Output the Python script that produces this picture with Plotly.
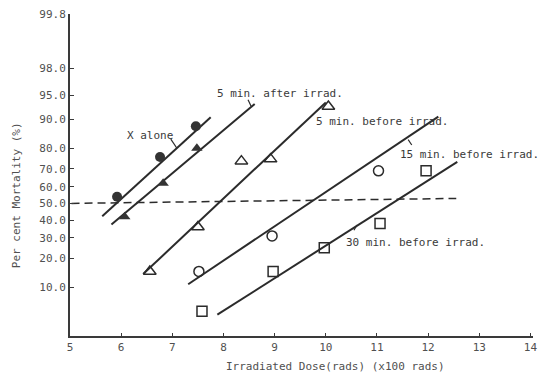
from statistics import NormalDist
import plotly.graph_objects as go

# Dose (x100 rads) and per cent mortality for each treatment group
x_alone_dose = [5.92, 6.76, 7.46]
x_alone_mort = [54, 76, 88]

after5_dose = [6.07, 6.82, 7.48]
after5_mort = [42, 62, 80]

before5_dose = [6.56, 7.50, 8.35, 8.92, 10.05]
before5_mort = [15, 36, 74, 75, 93]

before15_dose = [7.52, 8.95, 11.03]
before15_mort = [15, 31, 69]

before30_dose = [7.58, 8.97, 9.97, 11.06, 11.96]
before30_mort = [5, 15, 25, 38, 69]

# Fitted probit lines: end points (dose, % mortality)
fit_x_alone = ([5.63, 7.75], [42.2, 90.5])
fit_after5 = ([5.81, 8.61], [37.4, 93.5])
fit_before5 = ([6.43, 10.0], [14.1, 93.8])
fit_before15 = ([7.31, 12.2], [10.9, 90.7])
fit_before30 = ([7.88, 12.57], [4.5, 73.6])

# LD50 reference line
ld50_dose = [5.03, 12.55]
ld50_mort = [50, 53]

y_ticks = [10, 20, 30, 40, 50, 60, 70, 80, 90, 95, 98, 99.8]
x_ticks = [5, 6, 7, 8, 9, 10, 11, 12, 13, 14]

nd = NormalDist()


def probit(values):
    return [nd.inv_cdf(v / 100.0) for v in values]


FONT = "DejaVu Sans Mono"
INK = "#2b2b2b"
TXT = "#505050"

fig = go.Figure()

for xs, ys in [fit_x_alone, fit_after5, fit_before5, fit_before15, fit_before30]:
    fig.add_trace(go.Scatter(x=xs, y=probit(ys), mode="lines",
                             line=dict(color=INK, width=2), hoverinfo="skip"))

fig.add_trace(go.Scatter(x=ld50_dose, y=probit(ld50_mort), mode="lines",
                         line=dict(color=INK, width=1.5, dash="8px,5px"),
                         hoverinfo="skip"))

marker_sets = [
    (x_alone_dose, x_alone_mort, dict(symbol="circle", size=10, color="#333333",
                                      line=dict(width=0))),
    (after5_dose, after5_mort, dict(symbol="triangle-up", size=10, color="#333333",
                                    line=dict(width=0))),
    (before5_dose, before5_mort, dict(symbol="triangle-up-open", size=11, color=INK,
                                      line=dict(width=1.5))),
    (before15_dose, before15_mort, dict(symbol="circle-open", size=10, color=INK,
                                        line=dict(width=1.5))),
    (before30_dose, before30_mort, dict(symbol="square-open", size=10, color=INK,
                                        line=dict(width=1.5))),
]
for xs, ys, mk in marker_sets:
    fig.add_trace(go.Scatter(x=xs, y=probit(ys), mode="markers", marker=mk))

# Curve labels with short leader strokes
labels = [
    ("X alone", 6.07, 1.03, (6.97, 0.98, 7.09, 0.84)),
    ("5 min. after irrad.", 7.84, 1.67, (8.48, 1.58, 8.54, 1.48)),
    ("5 min. before irrad.", 9.76, 1.24, None),
    ("15 min. before irrad.", 11.42, 0.74, (11.61, 0.97, 11.68, 0.89)),
    ("30 min. before irrad.", 10.35, -0.60, (10.55, -0.41, 10.61, -0.33)),
]
for text, lx, ly, lead in labels:
    fig.add_annotation(x=lx, y=ly, text=text, showarrow=False, xanchor="left",
                       yanchor="middle", font=dict(family=FONT, size=11, color="#3a3a3a"))
    if lead:
        fig.add_shape(type="line", x0=lead[0], y0=lead[1], x1=lead[2], y1=lead[3],
                      line=dict(color=INK, width=1.2))

fig.add_annotation(xref="paper", yref="paper", x=-0.114, y=0.438,
                   text="Per cent Mortality (%)", textangle=-90, showarrow=False,
                   xanchor="center", yanchor="middle",
                   font=dict(family=FONT, size=11, color=TXT))
fig.add_annotation(xref="paper", yref="paper", x=0.574, y=-0.096,
                   text="Irradiated Dose(rads) (x100 rads)", showarrow=False,
                   xanchor="center", yanchor="middle",
                   font=dict(family=FONT, size=11, color=TXT))

fig.update_layout(
    width=542, height=380,
    margin=dict(l=70, r=5, t=14, b=44),
    paper_bgcolor="white", plot_bgcolor="white",
    showlegend=False,
    font=dict(family=FONT, size=11, color=TXT),
    xaxis=dict(range=[5, 14.05], tickvals=x_ticks, ticktext=[str(t) for t in x_ticks],
               showgrid=False, zeroline=False, showline=True, linecolor="#3a3a3a",
               linewidth=2, ticks="inside", ticklen=3, tickcolor="#3a3a3a",
               tickfont=dict(family=FONT, size=11, color=TXT)),
    yaxis=dict(range=[-2.02, 2.885], tickvals=probit(y_ticks),
               ticktext=[f"{t:.1f}" for t in y_ticks],
               showgrid=False, zeroline=False, showline=True, linecolor="#3a3a3a",
               linewidth=2, ticks="inside", ticklen=4, tickcolor="#3a3a3a",
               tickfont=dict(family=FONT, size=11, color=TXT)),
)

fig.write_html("out.html")
